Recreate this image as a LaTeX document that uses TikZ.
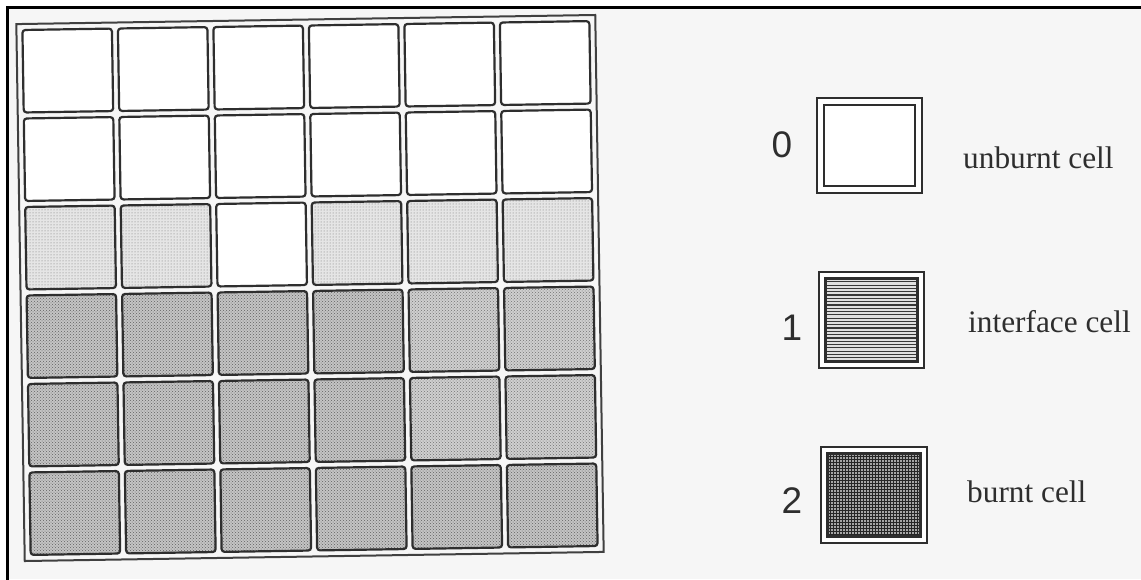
\documentclass[tikz,border=0pt]{standalone}
\usepackage{fontspec}
\setmainfont{Liberation Serif}
\newfontfamily\digitfont{Liberation Sans}
\usetikzlibrary{patterns}
\definecolor{ink}{HTML}{2E2E2E}
\definecolor{paper}{HTML}{F6F6F6}
\begin{document}
\begin{tikzpicture}[x=1pt,y=-1pt,
  cellbox/.style={draw=ink, line width=2.2pt, rounded corners=3pt, minimum width=89.5pt, minimum height=82.5pt, inner sep=0pt, transform shape},
  unb/.style={cellbox, fill=white},
  lgt/.style={cellbox, preaction={fill=black!10}, pattern=dots, pattern color=black!55},
  med/.style={cellbox, preaction={fill=black!19}, pattern=crosshatch dots, pattern color=black!55},
  drk/.style={cellbox, preaction={fill=black!23}, pattern=crosshatch dots, pattern color=black!62},
  framebox/.style={draw=black!75, line width=2pt, minimum width=579pt, minimum height=537pt, inner sep=0pt, transform shape},
  legout/.style={draw=ink, line width=1.8pt, inner sep=0pt, fill=white},
  legin/.style={draw=ink, line width=2.6pt, inner sep=0pt},
  digit/.style={font=\digitfont\fontsize{37}{40}\selectfont, text=ink, inner sep=0pt},
  lbl/.style={font=\fontsize{31.3}{36}\selectfont, text=ink, inner sep=0pt}
]
\useasboundingbox (0,0) rectangle (1141,579);
\fill[white] (0,0) rectangle (1141,579);
\fill[paper] (7,7) rectangle (1141,579);
% page edges of the scan
\coordinate (pl) at (7.5,579);
\coordinate (pc) at (7.5,7.5);
\coordinate (pr) at (1141,7.5);
\draw[line width=3pt, black, line cap=rect] (pl) -- (pc) -- (pr);

% grid
\begin{scope}[rotate around={0.9:(310,288)}]
  \node[framebox] (frame) at (310,288) {};
  \foreach \r/\types in {0/{unb,unb,unb,unb,unb,unb},
                         1/{unb,unb,unb,unb,unb,unb},
                         2/{lgt,lgt,unb,lgt,lgt,lgt},
                         3/{drk,drk,drk,drk,med,med},
                         4/{drk,drk,drk,drk,med,med},
                         5/{drk,drk,drk,drk,drk,drk}}{
    \foreach \t [count=\c from 0] in \types {
      \node[\t] (cell-\r-\c) at ({71.25+95.5*\c},{66.75+88.5*\r}) {};
    }
  }
\end{scope}

% legend
\node[legout, minimum width=105pt, minimum height=95pt] (b0) at (869.5,145.5) {};
\node[legin, fill=white, minimum width=91pt, minimum height=81pt] (b0i) at (b0.center) {};

\node[legout, minimum width=105pt, minimum height=96pt] (b1) at (871.5,320) {};
\node[legin, fill=black!12, minimum width=92pt, minimum height=83pt,
  path picture={\foreach \k in {1,...,25}
    \draw[black!78, line width=1.2pt] ([yshift=-\k*3.3pt]path picture bounding box.north west) -- ++(100pt,0pt);}] (b1i) at (b1.center) {};

\node[legout, minimum width=106pt, minimum height=96pt] (b2) at (874,495) {};
\node[legin, fill=black!35, minimum width=93pt, minimum height=83pt,
  path picture={\foreach \k in {1,...,31}{
    \draw[black!85, line width=1pt] ([yshift=-\k*3pt]path picture bounding box.north west) -- ++(100pt,0pt);
    \draw[black!85, line width=1pt] ([xshift=\k*3pt]path picture bounding box.north west) -- ++(0pt,-100pt);}}] (b2i) at (b2.center) {};

\node[digit, anchor=base] (n0) at (782,157) {0};
\node[digit, anchor=base] (n1) at (792,340) {1};
\node[digit, anchor=base] (n2) at (792,513) {2};

\node[lbl, anchor=base west] (t0) at (963,168) {unburnt cell};
\node[lbl, anchor=base west] (t1) at (968,332) {interface cell};
\node[lbl, anchor=base west] (t2) at (967,502) {burnt cell};
\end{tikzpicture}
\end{document}
